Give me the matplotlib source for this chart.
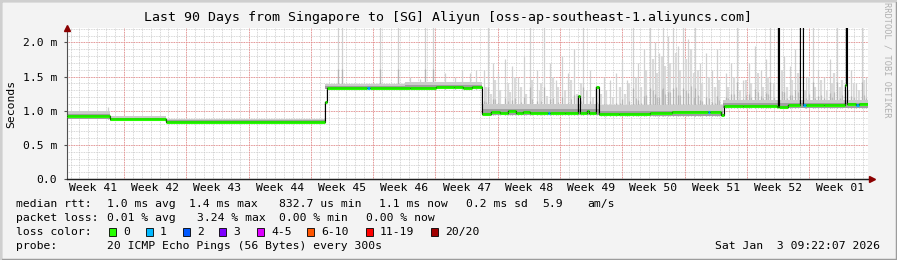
import numpy as np
import matplotlib
matplotlib.use("Agg")
import matplotlib.pyplot as plt
from matplotlib.patches import Rectangle

# ---------------- data (x in days since start of 90-day window, y in ms) -------------
week_labels = ["Week 41", "Week 42", "Week 43", "Week 44", "Week 45", "Week 46", "Week 47",
               "Week 48", "Week 49", "Week 50", "Week 51", "Week 52", "Week 01"]
first_week_start = 6.4          # first Monday midnight (day)
first_label_pos = 2.9           # centre of first labelled week

med_days = [0.0, 4.8, 11.1, 29.0, 29.2, 33.7, 34.0, 38.5, 41.5, 43.5, 44.5, 45.5,
            46.6, 47.6, 48.6, 49.6, 50.4, 51.2, 52.0, 54.0, 54.3, 56.0, 57.4, 57.6,
            58.4, 58.7, 59.4, 59.8, 62.0, 65.5, 68.0, 72.0, 72.3, 73.5, 73.8, 76.0,
            79.8, 79.9, 80.0, 81.0, 82.4, 82.7, 83.0, 85.0, 87.4, 87.5, 87.6, 88.7,
            89.0, 90.0]
med_vals = [0.915, 0.88, 0.84, 1.12, 1.33, 1.335, 1.335, 1.33, 1.345, 1.35, 1.335, 1.35,
            0.955, 0.975, 0.96, 0.99, 0.965, 0.985, 0.965, 0.965, 0.965, 0.97, 1.22, 0.97,
            1.0, 0.965, 1.34, 0.95, 0.955, 0.97, 0.975, 0.975, 0.975, 0.93, 1.07, 1.075,
            1.055, 3.0, 1.06, 1.08, 3.0, 1.08, 1.085, 1.085, 1.37, 3.0, 1.095, 1.09,
            1.095, 1.10]
med_loss = [0, 0, 0, 0, 0, 1, 0, 0, 0, 0, 0, 0,
            0, 0, 0, 0, 0, 0, 0, 1, 0, 0, 0, 0,
            0, 0, 0, 0, 0, 0, 0, 1, 0, 0, 0, 0,
            0, 0, 0, 0, 0, 1, 0, 0, 0, 0, 0, 1,
            0, 0]

band_days = [0, 4.8, 11.1, 29.0, 38.0, 46.6, 59.8, 73.7, 90]
band_lo = [0.88, 0.855, 0.815, 1.31, 1.31, 0.935, 0.925, 1.045, 1.045]
band_hi = [0.99, 0.92, 0.875, 1.39, 1.42, 1.10, 1.08, 1.16, 1.16]
core_hi = [0.945, 0.895, 0.86, 1.36, 1.37, 1.02, 1.0, 1.11, 1.11]

spike_days = [4.6, 30.4, 30.9, 35.2, 37.2, 38.5, 39.7, 40.2, 41.1, 42.5, 43.6, 44.4, 45.3, 46.0,
              46.9, 47.3, 47.9, 48.4, 49.2, 50.0, 50.7, 51.3, 52.0, 52.8, 53.6, 54.3, 54.9,
              55.6, 56.3, 57.0, 58.0, 58.8, 60.3, 61.0, 61.7, 62.4, 62.9, 63.6, 64.2, 64.8,
              65.5, 66.1, 66.5, 67.0, 67.5, 68.1, 68.7, 69.2, 69.8, 70.6, 71.1, 71.8, 72.5,
              73.0, 74.0, 74.6, 75.3, 76.0, 76.6, 77.3, 78.0, 78.5, 79.0, 80.6, 81.2, 81.8,
              83.0, 83.8, 84.4, 85.1, 85.7, 86.5, 88.1, 88.7, 89.3, 89.8]
spike_tops = [1.06, 2.3, 2.3, 2.3, 2.3, 1.5, 1.47, 2.3, 2.3, 1.55, 1.5, 1.6, 1.55, 1.6,
              1.6, 2.3, 1.7, 1.55, 1.75, 1.66, 1.5, 1.8, 2.3, 1.6, 2.3, 1.7, 1.45,
              1.8, 1.55, 1.9, 2.3, 1.6, 1.5, 1.45, 1.55, 1.75, 1.45, 2.3, 1.7, 1.9,
              2.3, 2.0, 1.85, 2.3, 2.1, 2.3, 1.95, 2.3, 2.05, 2.3, 1.7, 1.85, 1.6,
              1.9, 1.55, 1.7, 2.3, 1.45, 1.7, 1.95, 1.6, 1.75, 2.3, 1.8, 1.65, 1.9,
              1.5, 2.3, 1.6, 1.5, 1.75, 2.3, 1.6, 1.4, 2.3, 1.5]

mid_days = [47.1, 47.6, 48.1, 48.7, 49.5, 49.8, 50.3, 51.0, 51.6, 52.3, 53.1, 53.3, 53.9, 54.6,
            55.2, 55.9, 56.6, 57.3, 57.8, 58.4, 59.1, 59.6, 60.0, 60.6, 61.3, 62.1, 62.7, 63.2,
            63.9, 64.5, 65.1, 65.8, 66.3, 66.8, 67.2, 67.8, 68.4, 68.9, 69.5, 70.1, 70.4, 70.9,
            71.4, 72.1, 72.8, 73.3, 74.3, 74.9, 75.6, 76.3, 76.9, 77.6, 78.2, 78.8, 79.4, 80.3,
            80.9, 81.5, 82.1, 82.9, 83.4, 84.1, 84.7, 85.4, 86.0, 86.2, 86.8, 87.1, 87.8, 88.4,
            89.0, 89.6]
mid_tops = [1.35, 1.25, 1.45, 1.3, 1.4, 1.28, 1.5, 1.35, 1.25, 1.45, 1.3, 1.4, 1.22, 1.5,
            1.35, 1.3, 1.45, 1.25, 1.4, 1.3, 1.2, 1.35, 1.25, 1.3, 1.2, 1.35, 1.25, 1.4,
            1.5, 1.35, 1.6, 1.75, 1.55, 1.8, 1.65, 1.7, 1.85, 1.6, 1.75, 1.9, 1.55, 1.6,
            1.4, 1.5, 1.35, 1.45, 1.35, 1.5, 1.3, 1.45, 1.4, 1.55, 1.35, 1.5, 1.4, 1.6,
            1.35, 1.45, 1.55, 1.3, 1.5, 1.35, 1.45, 1.3, 1.4, 1.55, 1.35, 1.45, 1.3, 1.4,
            1.3, 1.45]

loss_labels = ["0", "1", "2", "3", "4-5", "6-10", "11-19", "20/20"]
loss_colors = ["#26ff00", "#00b8ff", "#0059ff", "#7e00ff", "#dd00ff", "#ff5500", "#ff0000", "#a10000"]

yticks = [0.0, 0.5, 1.0, 1.5, 2.0]
ytick_labels = ["0.0", "0.5 m", "1.0 m", "1.5 m", "2.0 m"]

# ---------------- figure -------------
W, H = 897, 260
fig = plt.figure(figsize=(W / 100, H / 100), dpi=100, facecolor="#f3f3f3")
MONO = "DejaVu Sans Mono"

# frame (3D style border)
fig.patches.append(Rectangle((0, 0), 1, 1, transform=fig.transFigure, fill=False,
                             edgecolor="#9c9c9c", lw=2.5))
fig.add_artist(plt.Line2D([0.001, 0.999], [0.997, 0.997], transform=fig.transFigure, color="#cfcfcf", lw=1.5))
fig.add_artist(plt.Line2D([0.001, 0.001], [0.003, 0.997], transform=fig.transFigure, color="#cfcfcf", lw=1.5))

x0, x1 = 67, 868
yb, yt = 179, 28
ax = fig.add_axes([x0 / W, 1 - yb / H, (x1 - x0) / W, (yb - yt) / H])
ax.set_facecolor("white")
ax.set_xlim(0, 90)
ax.set_ylim(0, 2.21)

# grids
minor_days = np.arange(first_week_start % 1, 90, 1.0)
major_days = np.arange(first_week_start, 90, 7.0)
for d in minor_days:
    ax.axvline(d, color="#c8c8c8", lw=0.6, ls=(0, (1, 1)), zorder=0.5)
for v in np.arange(0.1, 2.21, 0.1):
    ax.axhline(v, color="#c8c8c8", lw=0.6, ls=(0, (1, 1)), zorder=0.5)
for d in major_days:
    ax.axvline(d, color="#f08080", lw=0.6, ls=(0, (1, 1)), zorder=0.6)
for v in yticks[1:]:
    ax.axhline(v, color="#f08080", lw=0.6, ls=(0, (1, 1)), zorder=0.6)

# smoke
bd = np.array(band_days)
def base_at(days):
    idx = np.clip(np.searchsorted(bd, days, side="right") - 1, 0, len(bd) - 1)
    return np.array(band_lo)[idx]

sb = base_at(spike_days)
st = np.array(spike_tops)
ax.vlines(spike_days, sb, st, colors="#d0d0d0", lw=0.9, zorder=1.2)
ax.vlines(spike_days, sb, sb + 0.3 * (st - sb), colors="#b4b4b4", lw=0.9, zorder=1.3)
mb = base_at(mid_days)
mt = np.array(mid_tops)
ax.vlines(mid_days, mb, mt, colors="#dadada", lw=1.6, zorder=1.1)
ax.vlines(mid_days, mb, mb + 0.45 * (mt - mb), colors="#bcbcbc", lw=0.9, zorder=1.25)
ax.fill_between(band_days, band_lo, band_hi, step="post", color="#cbcbcb", lw=0, zorder=1.5)
ax.fill_between(band_days, band_lo, core_hi, step="post", color="#a0a0a0", lw=0, zorder=1.6)

# median
ax.step(med_days, med_vals, where="post", color="black", lw=0.8, zorder=3)
seg_cols = [loss_colors[l] for l in med_loss[:-1]]
ax.hlines(med_vals[:-1], med_days[:-1], med_days[1:], colors=seg_cols, lw=2.2, zorder=4)
ax.step(med_days, med_vals, where="post", color="black", lw=0.3, alpha=0.5, zorder=5)

# axes styling
for s in ["top", "right"]:
    ax.spines[s].set_visible(False)
ax.spines["left"].set_color("#505050")
ax.spines["bottom"].set_color("#202020")
ax.spines["left"].set_linewidth(0.8)
ax.spines["bottom"].set_linewidth(0.9)
ax.set_yticks(yticks)
ax.set_yticklabels(ytick_labels, fontfamily=MONO, fontsize=8.2)
label_pos = [first_label_pos + 7 * i for i in range(len(week_labels))]
ax.set_xticks(label_pos)
ax.set_xticklabels(week_labels, fontfamily=MONO, fontsize=8.2)
ax.tick_params(axis="x", length=0, pad=3)
ax.tick_params(axis="y", length=2, pad=5, color="#505050")
ax.set_ylabel("Seconds", fontfamily=MONO, fontsize=8.2)
ax.yaxis.set_label_coords(-0.0635, 0.5)
# arrows
ax.plot([0], [1.0], marker="^", color="#8b0000", ms=4, clip_on=False, transform=ax.transAxes, zorder=6)
ax.plot([1.0055], [0], marker=">", color="#8b0000", ms=4, clip_on=False, transform=ax.transAxes, zorder=6)
ax.plot([0.0, 1.005], [0, 0], color="#202020", lw=0.9, clip_on=False, transform=ax.transAxes, zorder=5)

# title
fig.text(448 / W, 1 - 18 / H, "Last 90 Days from Singapore to [SG] Aliyun [oss-ap-southeast-1.aliyuncs.com]",
         ha="center", va="center", fontfamily=MONO, fontsize=9.55)
fig.text(887 / W, 1 - 60 / H, "RRDTOOL / TOBI OETIKER", rotation=270, ha="center", va="center",
         fontfamily=MONO, fontsize=6.2, color="#b0b0b0")

# legend rows
def t(x, y, s, **kw):
    fig.text(x / W, 1 - y / H, s, ha="left", va="center", fontfamily=MONO, fontsize=8.2, **kw)

r1, r2, r3, r4 = 204, 218, 232, 246
t(16, r1, "median rtt:")
for x, s in [(107, "1.0 ms avg"), (189, "1.4 ms max"), (279, "832.7 us min"), (379, "1.1 ms now"),
             (466, "0.2 ms sd"), (542, "5.9"), (587, "am/s")]:
    t(x, r1, s)
t(16, r2, "packet loss:")
for x, s in [(107, "0.01 % avg"), (197, "3.24 % max"), (279, "0.00 % min"), (366, "0.00 % now")]:
    t(x, r2, s)
t(16, r3, "loss color:")
box_x = [109, 146, 183, 219, 257, 307, 366, 431]
for bx, lab, col in zip(box_x, loss_labels, loss_colors):
    fig.patches.append(Rectangle((bx / W, 1 - (r3 + 4) / H), 7 / W, 8 / H, transform=fig.transFigure,
                                 facecolor=col, edgecolor="black", lw=0.6))
    t(bx + 14, r3, lab)
t(16, r4, "probe:")
t(107, r4, "20 ICMP Echo Pings (56 Bytes) every 300s")
fig.text(880 / W, 1 - r4 / H, "Sat Jan  3 09:22:07 2026", ha="right", va="center",
         fontfamily=MONO, fontsize=8.2)

fig.savefig("out.png", dpi=100, facecolor=fig.get_facecolor())
